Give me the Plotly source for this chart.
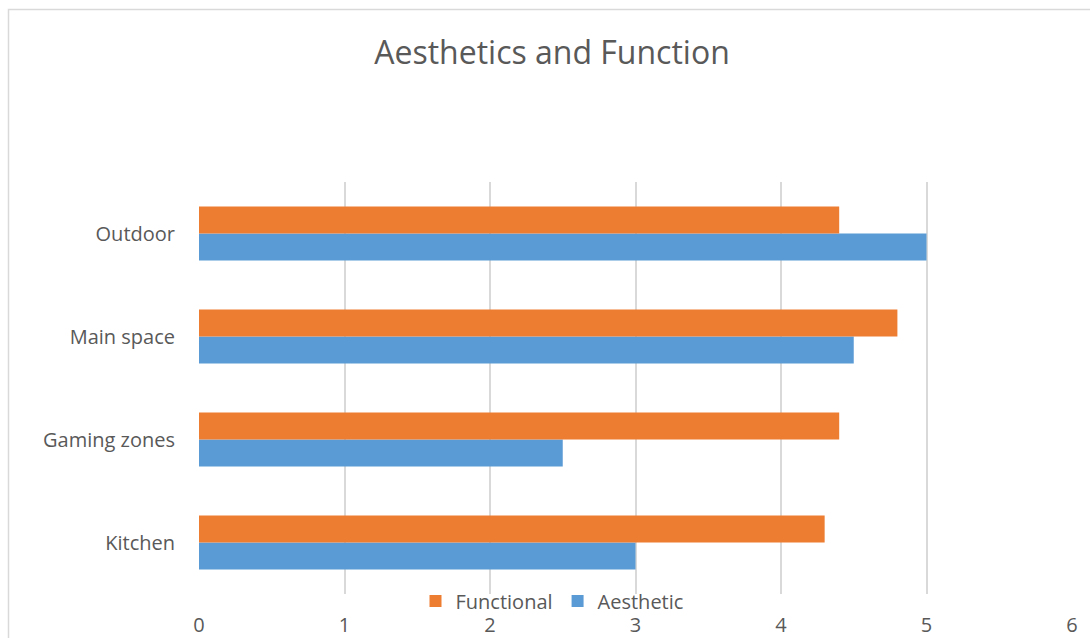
import plotly.graph_objects as go

# Data
categories = ["Kitchen", "Gaming zones", "Main space", "Outdoor"]
aesthetic = [3.0, 2.5, 4.5, 5.0]
functional = [4.3, 4.4, 4.8, 4.4]
x_ticks = [0, 1, 2, 3, 4, 5, 6]

W, H = 1090, 638
ML, MR, MT, MB = 199, 18, 182, 44

TEXT = "#595959"
GRID = "#d9d9d9"
FONT = "Open Sans"

fig = go.Figure()
fig.add_trace(go.Bar(
    y=categories, x=aesthetic, orientation="h", name="Aesthetic",
    marker=dict(color="#5B9BD5", line=dict(width=0)),
))
fig.add_trace(go.Bar(
    y=categories, x=functional, orientation="h", name="Functional",
    marker=dict(color="#ED7D31", line=dict(width=0)),
))

pw = W - ML - MR
ph = H - MT - MB


def px_x(X):
    return (X - ML) / pw


def px_y(Y):
    return (H - MB - Y) / ph


# outer chart frame (left and top edges visible)
fig.add_shape(
    type="rect", xref="paper", yref="paper",
    x0=px_x(8.5), x1=px_x(W + 5),
    y0=px_y(H + 5), y1=px_y(9.5),
    line=dict(color=GRID, width=1.5), fillcolor="rgba(0,0,0,0)", layer="below",
)

fig.update_layout(
    width=W, height=H,
    margin=dict(l=ML, r=MR, t=MT, b=MB, pad=0, autoexpand=False),
    paper_bgcolor="white", plot_bgcolor="white",
    barmode="group", bargap=0.476, bargroupgap=0,
    font=dict(family=FONT, color=TEXT, size=20),
    title=dict(
        text="Aesthetics and Function", x=552 / W, xanchor="center",
        y=1 - 53 / H, yanchor="middle", yref="container", xref="container",
        font=dict(size=32, color=TEXT, family=FONT),
    ),
    xaxis=dict(
        range=[0, 6], tickvals=x_ticks, ticktext=[str(v) for v in x_ticks],
        showgrid=True, gridcolor=GRID, gridwidth=1.5, zeroline=False,
        showline=False, ticks="outside", ticklen=13, tickcolor="rgba(0,0,0,0)",
        tickfont=dict(size=20, color=TEXT), fixedrange=True, automargin=False,
    ),
    yaxis=dict(
        categoryorder="array", categoryarray=categories,
        showgrid=False, zeroline=False, showline=False,
        ticks="outside", ticklen=19, tickcolor="rgba(0,0,0,0)",
        tickfont=dict(size=20, color=TEXT), fixedrange=True, automargin=False,
    ),
    showlegend=True,
    legend=dict(
        orientation="h", traceorder="reversed",
        xref="paper", yref="paper",
        x=px_x(552), xanchor="center", y=px_y(601), yanchor="middle",
        font=dict(size=20, color=TEXT), bgcolor="rgba(0,0,0,0)",
        itemwidth=30, itemsizing="constant",
    ),
)

fig.write_html("out.html")
